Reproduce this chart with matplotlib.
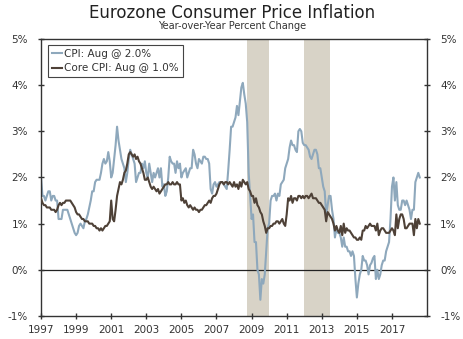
import numpy as np
import matplotlib
matplotlib.use("Agg")
import matplotlib.pyplot as plt
from matplotlib.ticker import FuncFormatter

# Monthly year-over-year % change, Jan 1997 .. Aug 2018
cpi = [
    2.0, 1.6, 1.6, 1.5, 1.6, 1.7, 1.7, 1.5, 1.6, 1.6, 1.5, 1.5,          # 1997
    1.1, 1.1, 1.1, 1.3, 1.3, 1.3, 1.3, 1.2, 1.1, 1.0, 0.9, 0.8,          # 1998
    0.75, 0.8, 0.95, 1.0, 0.95, 0.9, 1.05, 1.1, 1.2, 1.35, 1.5, 1.7,     # 1999
    1.7, 1.9, 1.95, 1.95, 1.95, 2.1, 2.3, 2.4, 2.3, 2.35, 2.55, 2.35,    # 2000
    2.0, 2.1, 2.4, 2.7, 3.1, 2.8, 2.6, 2.4, 2.3, 2.2, 1.9, 2.1,          # 2001
    2.4, 2.6, 2.5, 2.4, 2.3, 1.9, 2.0, 2.1, 2.1, 2.3, 2.2, 2.35,         # 2002
    2.1, 2.0, 2.3, 2.1, 1.9, 2.1, 2.0, 2.1, 2.2, 2.0, 2.2, 1.8,          # 2003
    1.85, 1.6, 1.7, 2.0, 2.45, 2.35, 2.3, 2.3, 2.1, 2.35, 2.2, 2.3,      # 2004
    2.0, 2.1, 2.15, 2.2, 2.0, 2.1, 2.2, 2.2, 2.6, 2.5, 2.3, 2.2,         # 2005
    2.4, 2.35, 2.3, 2.45, 2.45, 2.4, 2.4, 2.3, 1.75, 1.65, 1.85, 1.9,    # 2006
    1.8, 1.85, 1.9, 1.9, 1.9, 1.85, 1.8, 1.75, 2.15, 2.6, 3.1, 3.1,      # 2007
    3.2, 3.3, 3.55, 3.35, 3.65, 3.95, 4.05, 3.8, 3.6, 3.2, 2.1, 1.6,     # 2008
    1.1, 1.2, 0.6, 0.6, 0.0, -0.1, -0.65, -0.2, -0.3, -0.1, 0.4, 0.9,    # 2009
    1.0, 1.5, 1.6, 1.6, 1.65, 1.5, 1.65, 1.6, 1.85, 1.9, 1.95, 2.2,      # 2010
    2.3, 2.4, 2.65, 2.8, 2.7, 2.7, 2.6, 2.55, 3.0, 3.05, 3.0, 2.75,      # 2011
    2.7, 2.7, 2.65, 2.6, 2.45, 2.4, 2.5, 2.6, 2.6, 2.5, 2.2, 2.2,        # 2012
    2.0, 1.8, 1.7, 1.2, 1.4, 1.6, 1.6, 1.3, 1.1, 0.7, 0.9, 0.8,          # 2013
    0.8, 0.7, 0.5, 0.7, 0.5, 0.5, 0.4, 0.4, 0.3, 0.4, 0.3, -0.2,         # 2014
    -0.6, -0.3, -0.1, 0.0, 0.3, 0.2, 0.2, 0.1, -0.1, 0.1, 0.15, 0.25,    # 2015
    0.3, -0.2, 0.0, -0.2, -0.1, 0.1, 0.2, 0.2, 0.4, 0.5, 0.6, 1.1,       # 2016
    1.8, 2.0, 1.5, 1.9, 1.4, 1.3, 1.3, 1.5, 1.5, 1.4, 1.5, 1.4,          # 2017
    1.3, 1.1, 1.3, 1.3, 1.9, 2.0, 2.1, 2.0,                              # 2018
]

core = [
    1.55, 1.45, 1.4, 1.4, 1.35, 1.35, 1.35, 1.3, 1.3, 1.3, 1.25, 1.3,    # 1997
    1.4, 1.45, 1.4, 1.45, 1.45, 1.5, 1.5, 1.5, 1.5, 1.45, 1.4, 1.35,     # 1998
    1.25, 1.2, 1.2, 1.15, 1.1, 1.1, 1.05, 1.05, 1.05, 1.0, 1.0, 1.0,     # 1999
    0.95, 0.95, 0.9, 0.9, 0.85, 0.9, 0.85, 0.9, 0.95, 0.95, 1.0, 1.05,   # 2000
    1.5, 1.1, 1.05, 1.3, 1.6, 1.75, 1.9, 1.85, 1.95, 2.1, 2.15, 2.3,     # 2001
    2.5, 2.55, 2.5, 2.45, 2.5, 2.4, 2.45, 2.35, 2.3, 2.2, 2.1, 1.95,     # 2002
    1.95, 2.0, 1.9, 1.8, 1.75, 1.8, 1.75, 1.7, 1.75, 1.65, 1.7, 1.75,    # 2003
    1.8, 1.85, 1.85, 1.9, 1.85, 1.85, 1.9, 1.85, 1.85, 1.9, 1.85, 1.85,  # 2004
    1.5, 1.55, 1.45, 1.5, 1.4, 1.35, 1.4, 1.35, 1.3, 1.35, 1.3, 1.3,     # 2005
    1.25, 1.3, 1.3, 1.35, 1.4, 1.4, 1.45, 1.5, 1.45, 1.55, 1.6, 1.6,     # 2006
    1.65, 1.75, 1.85, 1.9, 1.9, 1.85, 1.9, 1.9, 1.85, 1.9, 1.85, 1.8,    # 2007
    1.9, 1.8, 1.85, 1.75, 1.9, 1.8, 1.95, 1.9, 1.85, 1.9, 1.75, 1.7,     # 2008
    1.6, 1.6, 1.45, 1.55, 1.4, 1.35, 1.25, 1.2, 1.05, 0.95, 0.8, 0.9,    # 2009
    0.9, 0.95, 0.95, 1.0, 1.0, 1.05, 1.05, 1.0, 1.05, 1.1, 1.0, 0.95,    # 2010
    1.2, 1.55, 1.5, 1.6, 1.45, 1.55, 1.55, 1.5, 1.6, 1.6, 1.55, 1.6,     # 2011
    1.55, 1.6, 1.6, 1.55, 1.6, 1.65, 1.55, 1.55, 1.55, 1.5, 1.45, 1.45,  # 2012
    1.4, 1.35, 1.3, 1.05, 1.25, 1.2, 1.15, 1.1, 1.0, 0.85, 0.95, 0.85,   # 2013
    0.8, 0.95, 0.75, 1.0, 0.8, 0.9, 0.85, 0.85, 0.8, 0.75, 0.7, 0.7,     # 2014
    0.65, 0.65, 0.7, 0.65, 0.85, 0.85, 0.95, 0.9, 0.95, 1.0, 0.95, 0.95, # 2015
    0.95, 0.85, 1.0, 0.75, 0.85, 0.9, 0.9, 0.85, 0.8, 0.8, 0.8, 0.85,    # 2016
    0.9, 0.85, 0.75, 1.2, 0.9, 1.1, 1.2, 1.2, 1.1, 0.9, 0.9, 0.95,       # 2017
    1.0, 1.0, 1.0, 0.75, 1.1, 0.9, 1.1, 1.0,                             # 2018
]

start_year = 1997
recessions = [(2008.75, 2009.97), (2012.0, 2013.46)]
year_ticks = list(range(1997, 2018, 2))
pct_ticks = [-1, 0, 1, 2, 3, 4, 5]

title = "Eurozone Consumer Price Inflation"
subtitle = "Year-over-Year Percent Change"
cpi_label = "CPI: Aug @ 2.0%"
core_label = "Core CPI: Aug @ 1.0%"

cpi_color = "#8ea8bc"
core_color = "#4e4137"
shade_color = "#d8d3c7"
axis_color = "#333333"
text_color = "#333333"

t_cpi = start_year + np.arange(len(cpi)) / 12.0
t_core = start_year + np.arange(len(core)) / 12.0

fig = plt.figure(figsize=(4.64, 3.39), dpi=100)
ax = fig.add_axes([0.0884, 0.068, 0.832, 0.817])

# shaded recession periods
for a, b in recessions:
    ax.axvspan(a, b, color=shade_color, lw=0, zorder=0)

ax.axhline(0, color="#222222", lw=0.9, zorder=1)
ax.plot(t_cpi, cpi, color=cpi_color, lw=1.5, label=cpi_label, zorder=2)
ax.plot(t_core, core, color=core_color, lw=1.5, label=core_label, zorder=3)

ax.set_xlim(1997, 2019)
ax.set_ylim(-1, 5)
ax.set_xticks(year_ticks)
ax.set_xticklabels([str(y) for y in year_ticks])
ax.set_yticks(pct_ticks)
ax.yaxis.set_major_formatter(FuncFormatter(lambda v, p: f"{v:.0f}%"))

ax.tick_params(axis="both", direction="inout", length=5, width=1,
               color=axis_color, labelsize=7.5, labelcolor=text_color)
ax.tick_params(axis="y", left=True, right=True,
               labelleft=True, labelright=True, pad=7)
ax.tick_params(axis="x", pad=4)
for s in ax.spines.values():
    s.set_color(axis_color)
    s.set_linewidth(1.0)

leg = ax.legend(loc="upper left", bbox_to_anchor=(0.005, 0.997), fontsize=7.5,
                handlelength=1.0, handletextpad=0.2, borderpad=0.35,
                labelspacing=0.45, fancybox=False, framealpha=1,
                edgecolor="#444444")
leg.get_frame().set_linewidth(0.8)
for txt in leg.get_texts():
    txt.set_color(text_color)

fig.text(0.5, 0.962, title, ha="center", va="center", fontsize=12, color="#222222")
fig.text(0.5, 0.922, subtitle, ha="center", va="center", fontsize=7, color=text_color)

fig.savefig("out.png", dpi=100)
